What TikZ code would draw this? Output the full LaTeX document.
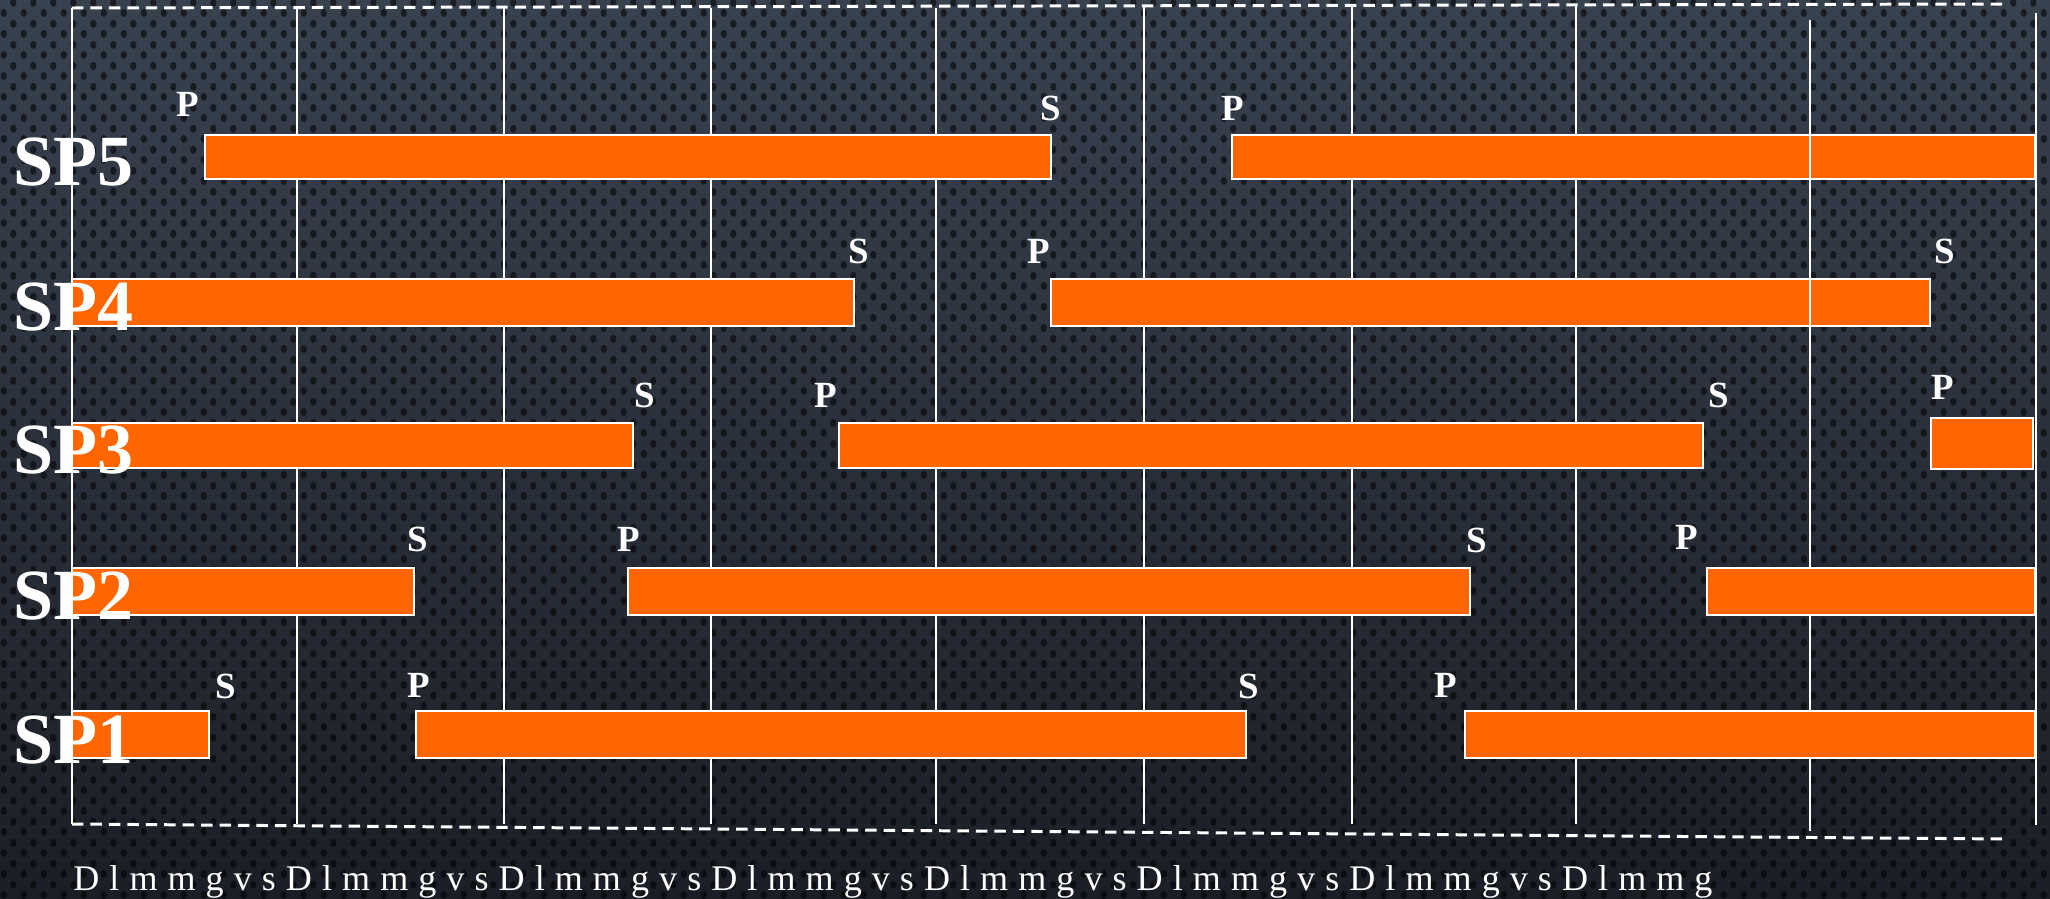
\documentclass[tikz,border=0pt]{standalone}
\usepackage{fontspec}
\setmainfont{Liberation Serif}
\usepackage{xcolor}
\usepackage{tikz}
\usetikzlibrary{patterns.meta}
\definecolor{SlotOrange}{HTML}{FF6600}
\definecolor{BoardTop}{HTML}{38424F}
\definecolor{BoardLow}{HTML}{1B1E26}
\tikzdeclarepattern{name=holes, type=uncolored,
  bounding box={(0pt,0pt) and (11.4pt,12pt)}, tile size={(11.4pt,12pt)},
  code={\fill (2.85pt,3pt) ellipse [x radius=1.9pt, y radius=2.4pt];
        \fill (8.55pt,9pt) ellipse [x radius=1.9pt, y radius=2.4pt];}}

\begin{document}
\begin{tikzpicture}[x=0.02cm, y=-0.02cm, bar/.style={draw=white,fill=SlotOrange,line width=1.6pt}, tick/.style={white,line width=1.3pt}, frame/.style={white,line width=1.7pt,dash pattern=on 6.5pt off 4pt}, tag/.style={text=white,font=\bfseries\fontsize{21}{21}\selectfont}, row/.style={text=white,anchor=base west,inner sep=0pt,font=\bfseries\fontsize{41}{41}\selectfont}]
\useasboundingbox (0,0) rectangle (2050,899);
\shade[top color=BoardTop,bottom color=BoardLow] (0,0) rectangle (2050,899);
\fill[pattern=holes,pattern color=black,opacity=0.55] (0,0) rectangle (2050,899);
\draw[tick] (72,8) -- (72,824);
\draw[tick] (297,8) -- (297,824);
\draw[tick] (504,8) -- (504,824);
\draw[tick] (711,8) -- (711,824);
\draw[tick] (936,8) -- (936,824);
\draw[tick] (1144,7) -- (1144,824);
\draw[tick] (1352,6) -- (1352,824);
\draw[tick] (1576,6) -- (1576,824);
\draw[tick] (1810,20) -- (1810,831);
\draw[tick] (2036,13) -- (2036,825);
\draw[frame] (72,8) -- (2005,4);
\draw[frame] (72,824) -- (2007,839);
\draw[bar] (205,135) rectangle (1051,179);
\draw[bar] (1232,135) rectangle (2035,179);
\draw[bar] (72,279) rectangle (854,326);
\draw[bar] (1051,279) rectangle (1930,326);
\draw[bar] (72,423) rectangle (633,468);
\draw[bar] (839,423) rectangle (1703,468);
\draw[bar] (1931,418) rectangle (2033,469);
\draw[bar] (72,568) rectangle (414,615);
\draw[bar] (628,568) rectangle (1470,615);
\draw[bar] (1707,568) rectangle (2035,615);
\draw[bar] (72,711) rectangle (209,758);
\draw[bar] (416,711) rectangle (1246,758);
\draw[bar] (1465,711) rectangle (2035,758);
\draw[tick] (1810,20) -- (1810,326);
\node[tag] (p5a) at (188,104) {P};
\node[tag] (s5a) at (1051,108) {S};
\node[tag] (p5b) at (1233,108) {P};
\node[tag] (s4a) at (859,251) {S};
\node[tag] (p4a) at (1039,251) {P};
\node[tag] (s4b) at (1945,251) {S};
\node[tag] (s3a) at (645,395) {S};
\node[tag] (p3a) at (826,395) {P};
\node[tag] (s3b) at (1719,395) {S};
\node[tag] (p3b) at (1943,387) {P};
\node[tag] (s2a) at (418,539) {S};
\node[tag] (p2a) at (629,539) {P};
\node[tag] (s2b) at (1477,540) {S};
\node[tag] (p2b) at (1687,537) {P};
\node[tag] (s1a) at (226,686) {S};
\node[tag] (p1a) at (419,685) {P};
\node[tag] (s1b) at (1249,686) {S};
\node[tag] (p1b) at (1446,685) {P};
\node[row] (sp5) at (13,185) {SP5};
\node[row] (sp4) at (13,330) {SP4};
\node[row] (sp3) at (13,473) {SP3};
\node[row] (sp2) at (13,619) {SP2};
\node[row] (sp1) at (13,763) {SP1};
\node[anchor=base west,inner sep=0pt,text=white,font=\fontsize{20.5}{20.5}\selectfont\addfontfeature{LetterSpace=28}] (days) at (73,890) {DlmmgvsDlmmgvsDlmmgvsDlmmgvsDlmmgvsDlmmgvsDlmmgvsDlmmg};
\end{tikzpicture}
\end{document}
